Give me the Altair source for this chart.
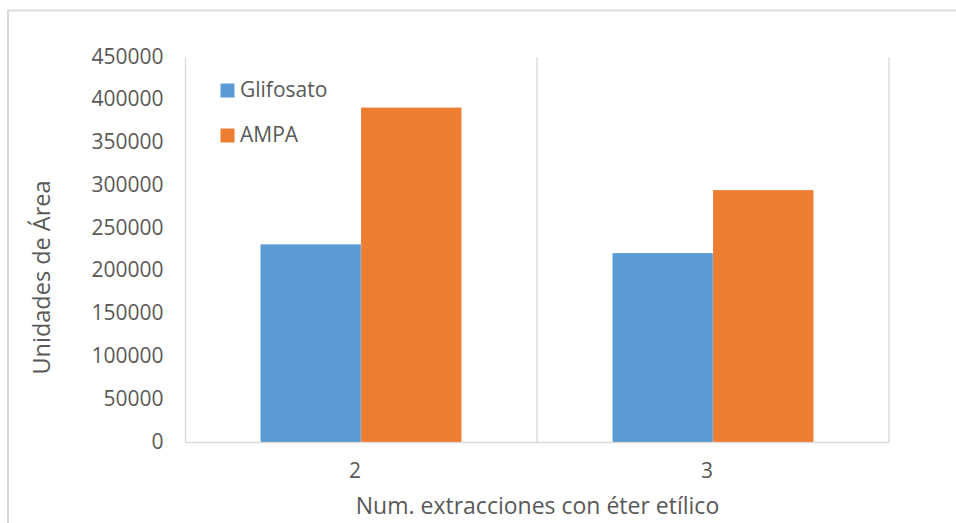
import altair as alt
import pandas as pd

# Peak areas by number of diethyl-ether extractions
extracciones = ["2", "3"]
glifosato = [231000, 221000]
ampa = [391000, 294500]
series = ["Glifosato", "AMPA"]
colores = ["#5B9BD5", "#ED7D31"]
y_ticks = [0, 50000, 100000, 150000, 200000, 250000, 300000, 350000, 400000, 450000]

rows = []
for i, e in enumerate(extracciones):
    rows.append({"extr": e, "serie": "Glifosato", "area": glifosato[i]})
    rows.append({"extr": e, "serie": "AMPA", "area": ampa[i]})
df = pd.DataFrame(rows)
cats = pd.DataFrame({"extr": extracciones})

FONT = "Open Sans"
TXT = "#595959"
GRID = "#d9d9d9"
W, H = 704, 385

x_scale = alt.Scale(domain=extracciones, paddingInner=0, paddingOuter=0)

bars = alt.Chart(df).mark_bar(stroke="white", strokeWidth=0.4, strokeOpacity=0.5).encode(
    x=alt.X(
        "extr:N",
        scale=x_scale,
        axis=alt.Axis(
            title="Num. extracciones con éter etílico",
            labelAngle=0,
            ticks=False,
            grid=False,
            domainColor=GRID,
            domainWidth=1.3,
            labelPadding=29,
            titlePadding=14,
            titleFontSize=23,
        ),
    ),
    xOffset=alt.XOffset(
        "serie:N",
        sort=series,
        scale=alt.Scale(domain=series, paddingInner=0, paddingOuter=0.75),
    ),
    y=alt.Y(
        "area:Q",
        scale=alt.Scale(domain=[0, 450000], nice=False),
        axis=alt.Axis(
            title="Unidades de Área",
            values=y_ticks,
            format="d",
            ticks=False,
            grid=False,
            domainColor=GRID,
            domainWidth=1.3,
            labelPadding=22,
            titlePadding=36,
            titleY=220,
            titleFontSize=23.5,
        ),
    ),
    color=alt.Color(
        "serie:N",
        sort=series,
        scale=alt.Scale(domain=series, range=colores),
        legend=alt.Legend(
            title=None,
            orient="none",
            legendX=32,
            legendY=23,
            symbolType="square",
            symbolSize=196,
            symbolStrokeWidth=0,
            labelOffset=2,
            rowPadding=23,
            padding=0,
        ),
    ),
)

# vertical separators at the right edge of each category band
sep = alt.Chart(cats).mark_rule(color=GRID, strokeWidth=1.3).encode(
    x=alt.X("extr:N", scale=x_scale, bandPosition=1),
    y=alt.value(0),
    y2=alt.value(H),
)

# thin frame around the whole figure
frame = alt.Chart(cats).mark_rect(fill=None, stroke=GRID, strokeWidth=1.5).encode(
    x=alt.value(-177),
    y=alt.value(-46.5),
    x2=alt.value(W + 120),
    y2=alt.value(H + 140),
)

chart = (
    alt.layer(frame, sep, bars)
    .properties(
        width=W,
        height=H,
        autosize=alt.AutoSizeParams(type="none"),
        padding={"left": 185, "top": 57, "right": 67, "bottom": 81},
        background="white",
    )
    .configure_view(stroke=None)
    .configure_axis(
        labelFont=FONT,
        titleFont=FONT,
        labelColor=TXT,
        titleColor=TXT,
        labelFontSize=21,
        titleFontWeight="normal",
    )
    .configure_legend(labelFont=FONT, labelColor=TXT, labelFontSize=21)
)

chart.save("out.html", embed_options={"renderer": "svg", "actions": False})
